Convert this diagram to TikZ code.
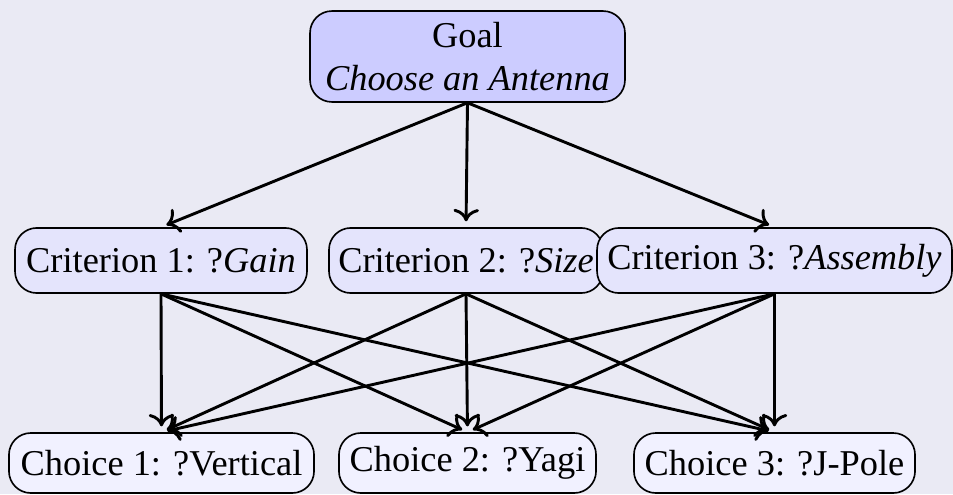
\documentclass[tikz,border=0pt]{standalone}
\usepackage{fontspec}
\setmainfont{Liberation Serif}
\usetikzlibrary{arrows.meta}
\definecolor{bgcol}{RGB}{234,234,244}
\definecolor{goalfill}{RGB}{204,204,255}
\definecolor{critfill}{RGB}{228,228,252}
\definecolor{choicefill}{RGB}{241,241,255}
\tikzset{
  box/.style={draw=black, line width=0.45pt, rounded corners=6pt, inner sep=0pt, align=center, font=\fontsize{10pt}{12pt}\selectfont},
  goalbox/.style={box, fill=goalfill, minimum width=86.6pt, minimum height=25pt},
  critbox/.style={box, fill=critfill, minimum height=17.9pt},
  choicebox/.style={box, fill=choicefill, minimum height=16.5pt},
  link/.style={line width=0.8pt, -{To[length=3.4pt,width=7pt]}, shorten >=1.6pt}
}
\begin{document}
\begin{tikzpicture}[x=0.275pt,y=-0.275pt]
\useasboundingbox (0,0) rectangle (953,494);
\fill[bgcol] (0,0) rectangle (953,494);
\node[goalbox] (goal) at (467.5,56.5) {Goal\\\textit{Choose an Antenna}};
\node[critbox, minimum width=80.3pt] (c1) at (161,260.5) {Criterion 1: ?\textit{Gain}};
\node[critbox, minimum width=75.35pt] (c2) at (466,260.5) {Criterion 2: ?\textit{Size}};
\node[critbox, minimum width=97.6pt] (c3) at (774.5,260.5) {Criterion 3: ?\textit{Assembly}};
\node[choicebox, minimum width=83.9pt] (h1) at (161.5,463) {Choice 1: ?Vertical};
\node[choicebox, minimum width=70.7pt] (h2) at (467.5,463) {Choice 2: ?Yagi};
\node[choicebox, minimum width=77.3pt] (h3) at (774.5,463) {Choice 3: ?J-Pole};
\foreach \c in {c1,c2,c3}{
  \draw[link] (goal.south) -- (\c.north);
}
\foreach \c in {c1,c2,c3}{
  \foreach \h in {h1,h2,h3}{
    \draw[link] (\c.south) -- (\h.north);
  }
}
\end{tikzpicture}
\end{document}
